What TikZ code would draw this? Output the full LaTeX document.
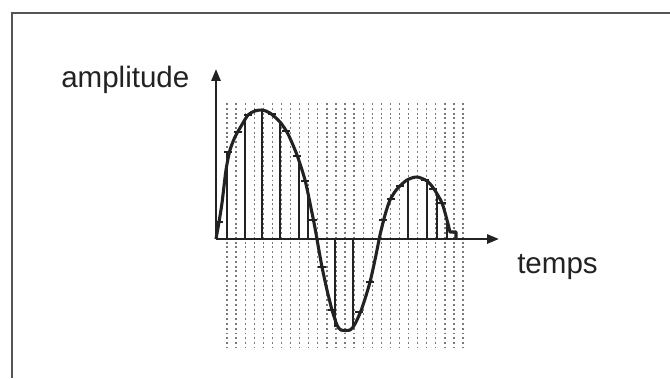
\documentclass[tikz,border=0pt]{standalone}
\usepackage{fontspec}
\setmainfont{Liberation Sans}
\usetikzlibrary{arrows.meta}
\definecolor{SInk}{HTML}{222222}
\definecolor{SGrey}{HTML}{7A7A7A}
\definecolor{SFrame}{HTML}{555555}

\begin{document}
\begin{tikzpicture}[
  x=0.025cm,y=-0.025cm,
  every node/.style={font=\fontsize{21}{25}\selectfont,text=SInk,inner sep=0pt},
  ax/.style={-{Triangle[length=8.5pt,width=6.5pt]},line width=1.7pt,color=SInk},
  wave/.style={line width=2.2pt,color=SInk,line join=round},
  stem/.style={line width=1.1pt,color=SInk},
  dots/.style={line width=0.9pt,color=SGrey,dash pattern=on 1.4pt off 2pt},
  hold/.style={line width=1.9pt,color=SInk},
  frm/.style={line width=1pt,color=SFrame}
]
  \useasboundingbox (0,0) rectangle (670,378);
  % frame (only left and top show)
  \draw[frm] (12,378) -- (12,13) -- (670,13);
  % sampling grid
  \foreach \i in {0,...,26}
    {\draw[dots] ({227+9.08*\i},103) -- ({227+9.08*\i},348);}
  \coordinate (O) at (216,239);
  \coordinate (ytip) at (216,69);
  \coordinate (xtip) at (499,239);
  % samples
  \foreach \x/\y in {227/152,245/118,262/110,280/122,299/160,308/188,
    318/245,335/327,353/327,408/180,427/181,437/192,447/220}
    {\draw[stem] (\x,239) -- (\x,\y);}
  % signal
  \draw[wave] plot[smooth,tension=0.45] coordinates {(216,239) (219,222)
    (222,203) (226,170) (230,150) (235,137) (240,128) (248,115) (255,111)
    (262,110) (270,113) (280,122) (288,134) (297,155) (305,180) (311,208)
    (315,228) (318,245) (322,267) (327,290) (332,310) (337,325) (341,330)
    (350,330) (355,324) (362,308) (370,282) (376,255) (380,235) (385,215)
    (390,200) (397,189) (407,180) (417,177) (427,181) (434,189) (442,203)
    (447,220) (450,232)} -- (456,232) -- (456,239);
  % held values
  \foreach \x/\y in {219/222,228/152,238/132,248/115,258/110,272/114,
    286/131,297/156,305/181,313/220,322/267,332/310,359/312,370/282,
    383/220,391/199,400/186,425/180,433/189,442/203}
    {\draw[hold] (\x-4,\y) -- (\x+4,\y);}
  % axes
  \draw[ax] (O) -- (ytip);
  \draw[ax] (O) -- (xtip);
  \node[anchor=base west] (amp) at (61,87) {amplitude};
  \node[anchor=base west] (temps) at (517,273) {temps};
\end{tikzpicture}
\end{document}
